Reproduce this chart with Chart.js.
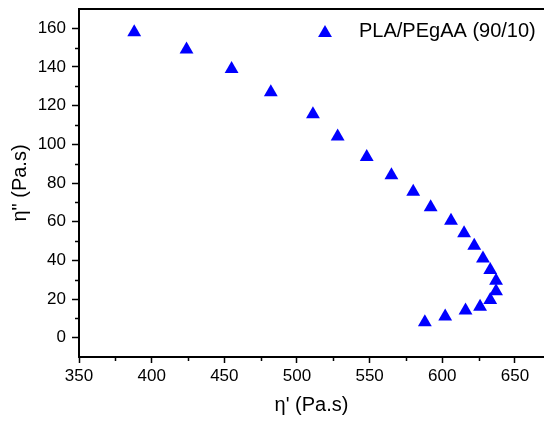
<!DOCTYPE html>
<html>
<head>
<meta charset="utf-8">
<script src="https://cdn.jsdelivr.net/npm/chart.js@4/dist/chart.umd.min.js"></script>
<style>
  body { margin: 0; background: #fff; overflow: hidden; }
  canvas { display: block; }
</style>
</head>
<body>
<canvas id="chart" width="544" height="421"></canvas>
<script>
// storage vs loss viscosity (Cole-Cole style plot)
const seriesLabel = 'PLA/PEgAA (90/10)';
const etaPrime = [388, 424, 455, 482, 511, 528, 548, 565, 580, 592, 606, 615, 622, 628, 633, 637, 637, 633, 626, 616, 602, 588];
const etaDouble = [158, 149, 139, 127, 115.5, 104, 93.5, 84, 75.5, 67.5, 60.5, 54, 47.5, 41, 35, 29.5, 24, 19.5, 16, 14, 11, 8];

const xTicks = [350, 400, 450, 500, 550, 600, 650];
const xMinor = [375, 425, 475, 525, 575, 625];
const yTicks = [0, 20, 40, 60, 80, 100, 120, 140, 160];
const yMinor = [10, 30, 50, 70, 90, 110, 130, 150];

const family = '"Liberation Sans", Arial, sans-serif';
const blue = '#0000ff';

const c = document.getElementById('chart').getContext('2d');

// minor ticks, top frame line and the legend entry
const extras = {
    id: 'extras',
    afterDraw(chart) {
        const ctx = chart.ctx;
        const xs = chart.scales.x;
        const ys = chart.scales.y;
        const area = chart.chartArea;
        ctx.save();
        ctx.strokeStyle = '#000';
        ctx.lineWidth = 1.5;
        ctx.beginPath();
        xMinor.forEach(v => {
            const px = Math.round(xs.getPixelForValue(v)) + 0.5;
            ctx.moveTo(px, area.bottom);
            ctx.lineTo(px, area.bottom + 4);
        });
        yMinor.forEach(v => {
            const py = Math.round(ys.getPixelForValue(v)) + 0.5;
            ctx.moveTo(area.left, py);
            ctx.lineTo(area.left - 4, py);
        });
        ctx.stroke();

        ctx.lineWidth = 2;
        ctx.beginPath();
        ctx.moveTo(area.left, area.top);
        ctx.lineTo(area.right, area.top);
        ctx.stroke();

        // legend: marker + label
        const lx = 325, ly = 33;
        ctx.fillStyle = blue;
        ctx.beginPath();
        ctx.moveTo(lx, ly - 8);
        ctx.lineTo(lx + 6.93, ly + 4);
        ctx.lineTo(lx - 6.93, ly + 4);
        ctx.closePath();
        ctx.fill();
        ctx.fillStyle = '#000';
        ctx.font = '20px ' + family;
        ctx.textBaseline = 'alphabetic';
        ctx.fillText(seriesLabel, 359, 37);
        ctx.restore();
    }
};

const points = etaPrime.map((x, i) => ({ x: x, y: etaDouble[i] }));

const config = {
    type: 'scatter',
    data: {
        datasets: [
            {
                label: seriesLabel,
                data: points,
                pointStyle: 'triangle',
                pointRadius: 8,
                backgroundColor: blue,
                borderColor: blue,
                borderWidth: 0
            }
        ]
    },
    options: {
        responsive: false,
        animation: false,
        events: [],
        layout: { autoPadding: false, padding: { top: 9, left: 0, right: 0, bottom: 0 } },
        plugins: {
            legend: { display: false },
            tooltip: { enabled: false }
        },
        scales: {
            x: {
                type: 'linear',
                min: 350,
                max: 670,
                afterBuildTicks: s => { s.ticks = xTicks.map(v => ({ value: v })); },
                afterFit: s => { s.height = 64; s.paddingLeft = 0; s.paddingRight = 0; },
                ticks: { color: '#000', font: { family: family, size: 17 }, padding: 3, maxRotation: 0 },
                grid: { drawOnChartArea: false, tickLength: 6, tickColor: '#000', tickWidth: 1.5 },
                border: { color: '#000', width: 2 },
                title: {
                    display: true,
                    text: "η' (Pa.s)",
                    color: '#000',
                    font: { family: family, size: 20, lineHeight: 1.2 },
                    padding: { top: 0, bottom: 4 }
                }
            },
            y: {
                type: 'linear',
                min: -10,
                max: 170,
                afterBuildTicks: s => { s.ticks = yTicks.map(v => ({ value: v })); },
                afterFit: s => { s.width = 79; s.paddingTop = 0; s.paddingBottom = 0; },
                ticks: { color: '#000', font: { family: family, size: 17 }, padding: 6 },
                grid: { drawOnChartArea: false, tickLength: 7, tickColor: '#000', tickWidth: 1.5 },
                border: { color: '#000', width: 2 },
                title: {
                    display: true,
                    text: 'η" (Pa.s)',
                    color: '#000',
                    font: { family: family, size: 20, lineHeight: 1.2 },
                    padding: { top: 8, bottom: 0 }
                }
            }
        }
    },
    plugins: [extras]
};

const chart = new Chart(c, config);
</script>
</body>
</html>
